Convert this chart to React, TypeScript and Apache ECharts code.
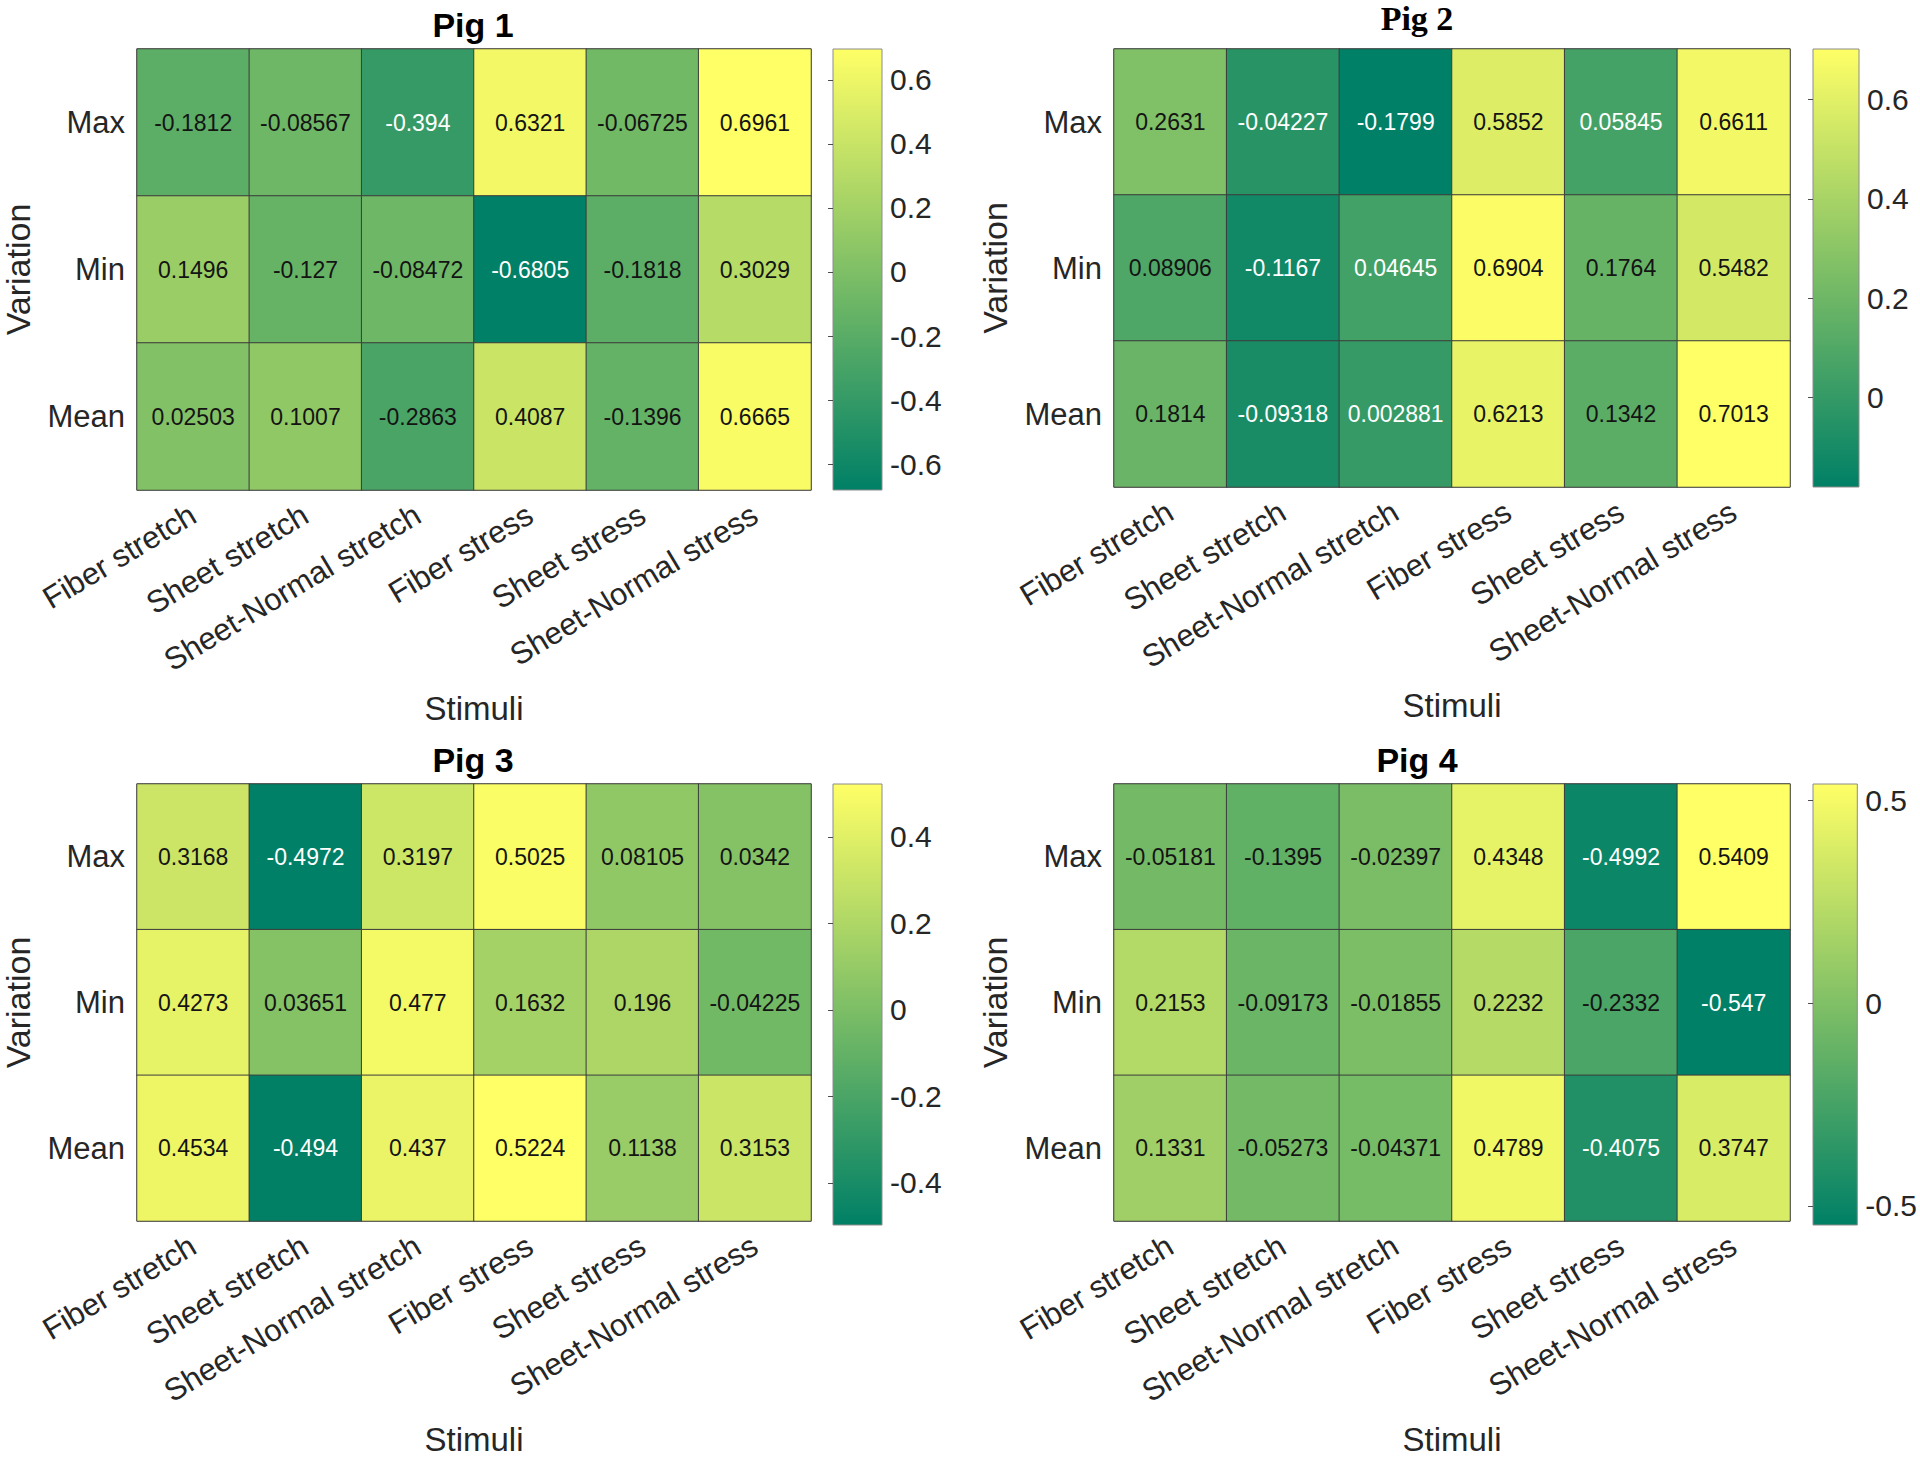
import React, { useEffect, useRef } from "react";
import * as echarts from "echarts";

const CATEGORIES = ["Fiber stretch", "Sheet stretch", "Sheet-Normal stretch", "Fiber stress", "Sheet stress", "Sheet-Normal stress"];
const VARIATIONS = ["Max", "Min", "Mean"];
const PIG_TITLES = ["Pig 1", "Pig 2", "Pig 3", "Pig 4"];

const PIG1_MAX = [-0.1812, -0.08567, -0.394, 0.6321, -0.06725, 0.6961];
const PIG1_MIN = [0.1496, -0.127, -0.08472, -0.6805, -0.1818, 0.3029];
const PIG1_MEAN = [0.02503, 0.1007, -0.2863, 0.4087, -0.1396, 0.6665];

const PIG2_MAX = [0.2631, -0.04227, -0.1799, 0.5852, 0.05845, 0.6611];
const PIG2_MIN = [0.08906, -0.1167, 0.04645, 0.6904, 0.1764, 0.5482];
const PIG2_MEAN = [0.1814, -0.09318, 0.002881, 0.6213, 0.1342, 0.7013];

const PIG3_MAX = [0.3168, -0.4972, 0.3197, 0.5025, 0.08105, 0.0342];
const PIG3_MIN = [0.4273, 0.03651, 0.477, 0.1632, 0.196, -0.04225];
const PIG3_MEAN = [0.4534, -0.494, 0.437, 0.5224, 0.1138, 0.3153];

const PIG4_MAX = [-0.05181, -0.1395, -0.02397, 0.4348, -0.4992, 0.5409];
const PIG4_MIN = [0.2153, -0.09173, -0.01855, 0.2232, -0.2332, -0.547];
const PIG4_MEAN = [0.1331, -0.05273, -0.04371, 0.4789, -0.4075, 0.3747];

const PIG1_TICKS = [-0.6, -0.4, -0.2, 0, 0.2, 0.4, 0.6];
const PIG2_TICKS = [0, 0.2, 0.4, 0.6];
const PIG3_TICKS = [-0.4, -0.2, 0, 0.2, 0.4];
const PIG4_TICKS = [-0.5, 0, 0.5];

const PIG_ROWS = [
  [PIG1_MAX, PIG1_MIN, PIG1_MEAN],
  [PIG2_MAX, PIG2_MIN, PIG2_MEAN],
  [PIG3_MAX, PIG3_MIN, PIG3_MEAN],
  [PIG4_MAX, PIG4_MIN, PIG4_MEAN],
];
const PIG_TICKS = [PIG1_TICKS, PIG2_TICKS, PIG3_TICKS, PIG4_TICKS];

// layout (pixels)
const LAYOUT = [
  { left: 135, top: 49, width: 676, height: 441, cbLeft: 833, cbWidth: 49, titleX: 473, titleY: 25, serif: false },
  { left: 1114, top: 49, width: 676, height: 438, cbLeft: 1813, cbWidth: 46, titleX: 1417, titleY: 18, serif: true },
  { left: 135, top: 784, width: 676, height: 441, cbLeft: 833, cbWidth: 49, titleX: 473, titleY: 760, serif: false },
  { left: 1114, top: 784, width: 676, height: 441, cbLeft: 1813, cbWidth: 46, titleX: 1417, titleY: 760, serif: false },
];

const LOW = "#008066";
const HIGH = "#FFFF66";
const FONT = "'Liberation Sans', Arial, Helvetica, sans-serif";
const TXT = "#262626";

function buildOption() {
  const grid: any[] = [];
  const xAxis: any[] = [];
  const yAxis: any[] = [];
  const series: any[] = [];
  const visualMap: any[] = [];
  const graphic: any[] = [];

  PIG_ROWS.forEach((rows, i) => {
    const L = LAYOUT[i];
    const all = rows.flat();
    const mn = Math.min(...all);
    const mx = Math.max(...all);
    const hi = 2 * i;
    const ci = 2 * i + 1;
    grid[hi] = { left: L.left, top: L.top, width: L.width, height: L.height, show: true, borderColor: "#a0a0a0", borderWidth: 1, backgroundColor: "transparent" };
    xAxis[hi] = {
      gridIndex: hi, type: "category", data: CATEGORIES,
      axisLine: { show: false }, axisTick: { show: false }, splitLine: { show: false },
      axisLabel: { interval: 0, rotate: 31, fontSize: 31, fontFamily: FONT, color: TXT, margin: 22 },
      name: "Stimuli", nameLocation: "middle", nameGap: 202,
      nameTextStyle: { fontSize: 33, fontFamily: FONT, color: TXT },
    };
    yAxis[hi] = {
      gridIndex: hi, type: "category", data: VARIATIONS, inverse: true,
      axisLine: { show: false }, axisTick: { show: false }, splitLine: { show: false },
      axisLabel: { fontSize: 31, fontFamily: FONT, color: TXT, margin: 12 },
      name: "Variation", nameLocation: "middle", nameGap: 102, nameRotate: 90,
      nameTextStyle: { fontSize: 34, fontFamily: FONT, color: TXT },
    };
    const data: any[] = [];
    rows.forEach((row, r) => {
      row.forEach((v, c) => {
        const t = (v - mn) / (mx - mn);
        data.push({ value: [c, r, v], label: { color: t < 0.28 ? "#ffffff" : "#141414" } });
      });
    });
    series.push({
      type: "heatmap", xAxisIndex: hi, yAxisIndex: hi, data,
      itemStyle: { borderColor: "#3c3c3c", borderWidth: 1 },
      label: { show: true, fontSize: 23, fontFamily: FONT, formatter: (p: any) => String(p.value[2]) },
      emphasis: { disabled: true },
    });
    visualMap.push({ type: "continuous", show: false, seriesIndex: i, dimension: 2, min: mn, max: mx, inRange: { color: [LOW, HIGH] } });

    grid[ci] = {
      left: L.cbLeft, top: L.top, width: L.cbWidth, height: L.height, show: true,
      borderColor: "#8c8c8c", borderWidth: 1,
      backgroundColor: new echarts.graphic.LinearGradient(0, 0, 0, 1, [
        { offset: 0, color: HIGH },
        { offset: 1, color: LOW },
      ]),
    };
    xAxis[ci] = { gridIndex: ci, type: "value", show: false, min: 0, max: 1 };
    yAxis[ci] = {
      gridIndex: ci, type: "value", position: "right", min: mn, max: mx,
      axisLine: { show: false }, splitLine: { show: false },
      axisTick: { show: true, inside: true, length: 5, customValues: PIG_TICKS[i], lineStyle: { color: "#4d4d4d", width: 1 } },
      axisLabel: {
        customValues: PIG_TICKS[i], fontSize: 30, fontFamily: FONT, color: TXT, margin: 8,
        formatter: (v: number) => String(Number(v.toFixed(2))),
      },
    };

    graphic.push({
      type: "text", x: L.titleX, y: L.titleY,
      style: {
        text: PIG_TITLES[i], align: "center", verticalAlign: "middle",
        font: L.serif ? "bold 34px 'Liberation Serif', 'Times New Roman', serif" : `bold 34px ${FONT}`,
        fill: "#000000",
      },
    });
  });

  return { animation: false, backgroundColor: "#ffffff", grid, xAxis, yAxis, series, visualMap, graphic };
}

export default function App() {
  const ref = useRef<HTMLDivElement>(null);
  useEffect(() => {
    if (!ref.current) return;
    const chart = echarts.init(ref.current, undefined, { renderer: "svg" });
    chart.setOption(buildOption() as any);
    return () => chart.dispose();
  }, []);
  return <div ref={ref} style={{ position: "absolute", left: 0, top: 0, width: 1920, height: 1457, background: "#fff" }} />;
}
